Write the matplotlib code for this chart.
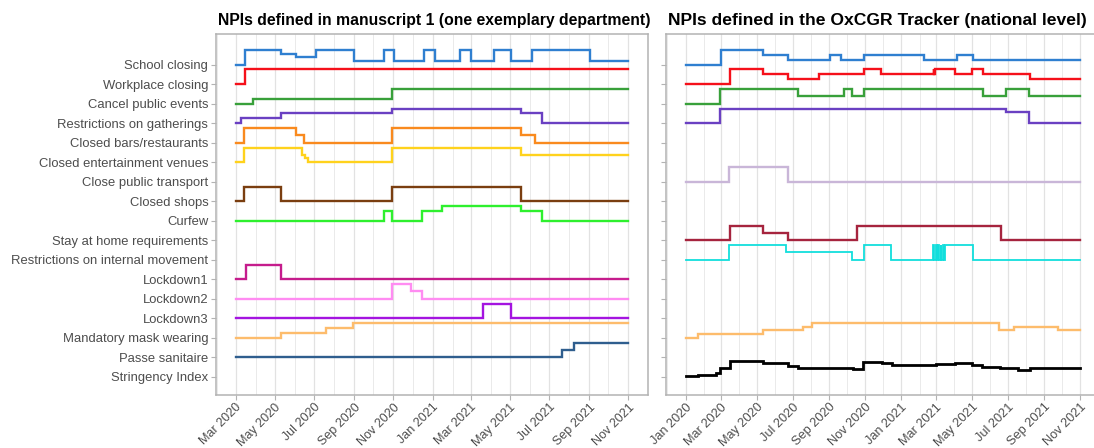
import matplotlib
matplotlib.use('Agg')
import matplotlib.pyplot as plt
import matplotlib.dates as mdates
import pandas as pd

plt.rcParams['font.family'] = ['Liberation Sans', 'DejaVu Sans']

# rows, top to bottom
npi_labels = ['School closing', 'Workplace closing', 'Cancel public events',
              'Restrictions on gatherings', 'Closed bars/restaurants',
              'Closed entertainment venues', 'Close public transport',
              'Closed shops', 'Curfew', 'Stay at home requirements',
              'Restrictions on internal movement', 'Lockdown1', 'Lockdown2',
              'Lockdown3', 'Mandatory mask wearing', 'Passe sanitaire',
              'Stringency Index']

npi_colours = {
    'School closing': '#2F7FD0', 'Workplace closing': '#F5101A',
    'Cancel public events': '#38A03A', 'Restrictions on gatherings': '#6A40C2',
    'Closed bars/restaurants': '#F98A1E', 'Closed entertainment venues': '#FFD21C',
    'Close public transport': '#C9B6D8', 'Closed shops': '#7A3E10',
    'Curfew': '#2EF02E', 'Stay at home requirements': '#A6243E',
    'Restrictions on internal movement': '#12DEDC', 'Lockdown1': '#C51C8C',
    'Lockdown2': '#FF8CF2', 'Lockdown3': '#A414E0',
    'Mandatory mask wearing': '#FDBC6C', 'Passe sanitaire': '#2F5E8E',
    'Stringency Index': '#000000'}

# ---- department level measures: (date of change, level), max level
dept_start, dept_end = '2020-03-01', '2021-10-31'
dept_school = [('2020-03-01', 0), ('2020-03-16', 4), ('2020-05-11', 3), ('2020-06-02', 2),
               ('2020-07-04', 4), ('2020-09-01', 1), ('2020-10-17', 4), ('2020-11-02', 1),
               ('2020-12-19', 4), ('2021-01-04', 1), ('2021-02-13', 4), ('2021-03-01', 1),
               ('2021-04-06', 4), ('2021-05-03', 1), ('2021-06-05', 4), ('2021-09-03', 1)]
dept_workplace = [('2020-03-01', 0), ('2020-03-16', 1)]
dept_events = [('2020-03-01', 0), ('2020-03-28', 1), ('2020-10-30', 3)]
dept_gatherings = [('2020-03-01', 0), ('2020-03-09', 1), ('2020-05-11', 2), ('2020-10-30', 3),
                   ('2021-05-19', 2), ('2021-06-20', 0)]
dept_bars = [('2020-03-01', 0), ('2020-03-14', 2), ('2020-06-02', 1), ('2020-06-15', 0),
             ('2020-10-30', 2), ('2021-05-19', 1), ('2021-06-09', 0)]
dept_venues = [('2020-03-01', 0), ('2020-03-14', 4), ('2020-06-12', 2), ('2020-06-17', 1),
               ('2020-06-21', 0), ('2020-10-30', 4), ('2021-05-19', 2)]
dept_shops = [('2020-03-01', 0), ('2020-03-14', 1), ('2020-05-11', 0), ('2020-10-30', 1),
              ('2021-05-19', 0)]
dept_curfew = [('2020-03-01', 0), ('2020-10-17', 2), ('2020-10-30', 0), ('2020-12-15', 2),
               ('2021-01-16', 3), ('2021-05-19', 2), ('2021-06-20', 0)]
dept_lockdown1 = [('2020-03-01', 0), ('2020-03-17', 1), ('2020-05-11', 0)]
dept_lockdown2 = [('2020-03-01', 0), ('2020-10-30', 2), ('2020-11-28', 1), ('2020-12-15', 0)]
dept_lockdown3 = [('2020-03-01', 0), ('2021-03-20', 1), ('2021-05-03', 0)]
dept_masks = [('2020-03-01', 0), ('2020-05-11', 1), ('2020-07-20', 2), ('2020-08-31', 3)]
dept_pass = [('2020-03-01', 0), ('2021-07-21', 1), ('2021-08-09', 2)]

dept_series = {
    'School closing': (dept_school, 4), 'Workplace closing': (dept_workplace, 1),
    'Cancel public events': (dept_events, 3), 'Restrictions on gatherings': (dept_gatherings, 3),
    'Closed bars/restaurants': (dept_bars, 2), 'Closed entertainment venues': (dept_venues, 4),
    'Closed shops': (dept_shops, 1), 'Curfew': (dept_curfew, 3),
    'Lockdown1': (dept_lockdown1, 1), 'Lockdown2': (dept_lockdown2, 2),
    'Lockdown3': (dept_lockdown3, 1), 'Mandatory mask wearing': (dept_masks, 3),
    'Passe sanitaire': (dept_pass, 2)}

# ---- OxCGRT national indicators
nat_start, nat_end = '2020-01-01', '2021-10-31'
nat_school = [('2020-01-01', 0), ('2020-03-01', 3), ('2020-05-11', 2), ('2020-06-22', 1),
              ('2020-09-02', 2), ('2020-09-21', 1), ('2020-10-29', 2), ('2021-02-08', 1),
              ('2021-04-05', 2), ('2021-05-03', 1)]
nat_workplace = [('2020-01-01', 0), ('2020-03-16', 3), ('2020-05-11', 2), ('2020-06-22', 1),
                 ('2020-08-14', 2), ('2020-10-30', 3), ('2020-11-28', 2), ('2021-02-25', 3),
                 ('2021-02-26', 2), ('2021-02-27', 3), ('2021-04-03', 2), ('2021-05-01', 3),
                 ('2021-05-19', 2), ('2021-08-08', 1)]
nat_events = [('2020-01-01', 0), ('2020-02-29', 2), ('2020-07-10', 1), ('2020-09-25', 2),
              ('2020-10-09', 1), ('2020-10-29', 2), ('2021-05-19', 1), ('2021-06-28', 2),
              ('2021-08-06', 1)]
nat_gatherings = [('2020-01-01', 0), ('2020-02-29', 4), ('2021-06-28', 3), ('2021-08-06', 0)]
nat_transport = [('2020-01-01', 0), ('2020-03-15', 1), ('2020-06-22', 0)]
nat_stay_home = [('2020-01-01', 0), ('2020-03-17', 2), ('2020-05-11', 1), ('2020-06-22', 0),
                 ('2020-10-17', 2), ('2021-06-20', 0)]
# weekend confinements in Feb/Mar 2021 switch the level on and off
nat_movement = [('2020-01-01', 0), ('2020-03-14', 2), ('2020-06-20', 1), ('2020-10-09', 0),
                ('2020-10-29', 2), ('2020-12-15', 0), ('2021-02-24', 2), ('2021-02-25', 0),
                ('2021-03-01', 2), ('2021-03-02', 0), ('2021-03-05', 2), ('2021-03-06', 0),
                ('2021-03-09', 2), ('2021-03-10', 0), ('2021-03-13', 2), ('2021-03-14', 0),
                ('2021-03-17', 2), ('2021-05-03', 0)]
nat_masks = [('2020-01-01', 0), ('2020-01-22', 1), ('2020-05-11', 2), ('2020-07-18', 3),
             ('2020-08-03', 4), ('2021-06-16', 2), ('2021-07-11', 3), ('2021-09-25', 2)]
nat_stringency = [('2020-01-01', 2.78), ('2020-01-22', 8.33), ('2020-02-21', 22.2),
                  ('2020-02-28', 45.4), ('2020-03-17', 87.96), ('2020-05-11', 76.85),
                  ('2020-06-22', 56.5), ('2020-07-10', 48.15), ('2020-09-20', 47.2),
                  ('2020-10-11', 42.6), ('2020-10-28', 82.4), ('2020-11-29', 77.3),
                  ('2020-12-16', 64.4), ('2021-02-08', 62.0), ('2021-02-14', 66.2),
                  ('2021-02-18', 62.0), ('2021-02-22', 66.2), ('2021-02-26', 62.5),
                  ('2021-03-01', 67.6), ('2021-04-03', 77.3), ('2021-05-01', 64.4),
                  ('2021-05-18', 51.4), ('2021-06-17', 46.3), ('2021-07-19', 38.9),
                  ('2021-08-08', 45.4)]

nat_series = {
    'School closing': (nat_school, 3), 'Workplace closing': (nat_workplace, 3),
    'Cancel public events': (nat_events, 2), 'Restrictions on gatherings': (nat_gatherings, 4),
    'Close public transport': (nat_transport, 1), 'Stay at home requirements': (nat_stay_home, 2),
    'Restrictions on internal movement': (nat_movement, 2),
    'Mandatory mask wearing': (nat_masks, 4)}

titles = ['NPIs defined in manuscript 1 (one exemplary department)',
          'NPIs defined in the OxCGR Tracker (national level)']

row_of = {lab: len(npi_labels) - i for i, lab in enumerate(npi_labels)}
step_h = 0.75          # height of the top level above the baseline
si_h = 0.93            # height of a stringency of 100
grey_text = '#4D4D4D'
grid_col = '#E2E2E2'
frame_col = '#B3B3B3'


def step_line(ax, pts, end, lab, vmax, h=step_h, lw=1.7):
    d = [pd.Timestamp(p[0]) for p in pts] + [pd.Timestamp(end)]
    v = [p[1] for p in pts]
    v = v + [v[-1]]
    y = [row_of[lab] + h * k / vmax for k in v]
    ax.step(d, y, where='post', color=npi_colours[lab], lw=lw, solid_joinstyle='miter')


W, H = 1094, 448
fig = plt.figure(figsize=(W / 100, H / 100), dpi=100)
ax1 = fig.add_axes([216 / W, 1 - 395 / H, 432 / W, 361 / H])
ax2 = fig.add_axes([666 / W, 1 - 395 / H, 434 / W, 361 / H])

for lab, (pts, vmax) in dept_series.items():
    step_line(ax1, pts, dept_end, lab, vmax)
for lab, (pts, vmax) in nat_series.items():
    lw = 1.3 if lab == 'Restrictions on internal movement' else 1.7
    step_line(ax2, pts, nat_end, lab, vmax, lw=lw)
step_line(ax2, nat_stringency, nat_end, 'Stringency Index', 100, h=si_h, lw=2.0)


def span(a, b):
    a, b = mdates.date2num(pd.Timestamp(a)), mdates.date2num(pd.Timestamp(b))
    pad = (b - a) * 0.05
    return a - pad, b + pad


ax1.set_xlim(*span(dept_start, '2021-11-01'))
ax2.set_xlim(*span(nat_start, '2021-11-01'))

# the national panel was drawn as its own plot, so its title runs a bit larger
for ax, title, tsize, xsize in zip([ax1, ax2], titles, [11.3, 12.6], [9.0, 9.2]):
    ax.set_ylim(0.06, 18.57)
    ax.set_yticks(list(row_of.values()))
    ax.xaxis.set_major_locator(mdates.MonthLocator(bymonth=(1, 3, 5, 7, 9, 11)))
    ax.xaxis.set_minor_locator(mdates.MonthLocator(bymonth=(2, 4, 6, 8, 10, 12)))
    ax.xaxis.set_major_formatter(mdates.DateFormatter('%b %Y'))
    ax.grid(axis='x', which='major', color=grid_col, lw=0.9)
    ax.grid(axis='x', which='minor', color=grid_col, lw=0.5)
    ax.set_axisbelow(True)
    for s in ax.spines.values():
        s.set_color(frame_col)
        s.set_linewidth(1.1)
    ax.tick_params(axis='both', which='major', length=3.5, width=0.8, color=frame_col,
                   labelsize=9.4, labelcolor=grey_text, pad=2)
    ax.tick_params(axis='x', which='major', labelsize=xsize, pad=1)
    ax.tick_params(axis='x', which='minor', length=0)
    for t in ax.get_xticklabels():
        t.set_rotation(45)
        t.set_ha('right')
        t.set_rotation_mode('anchor')
    ax.text(0.004, 1.018, title, transform=ax.transAxes, fontsize=tsize,
            fontweight='bold', ha='left', va='bottom', color='black')

ax1.set_yticklabels(list(row_of.keys()))
ax2.set_yticklabels([])

fig.savefig('out.png', dpi=100, facecolor='white')
